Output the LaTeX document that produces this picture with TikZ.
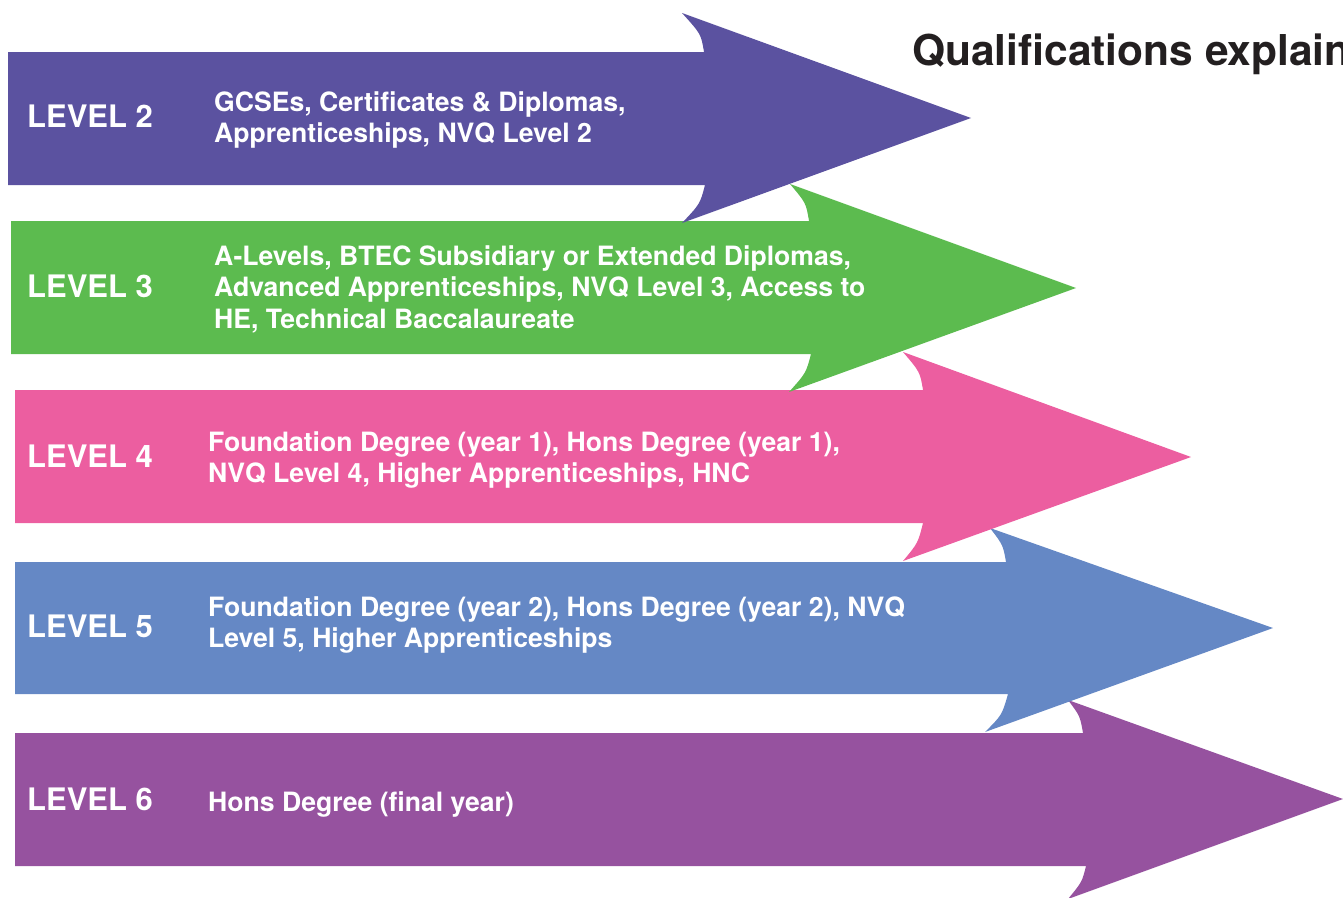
\documentclass[tikz,border=0pt]{standalone}
\usepackage{fontspec}
\setmainfont{TeX Gyre Heros}
\usepackage{tikz}
\usepackage{xcolor}
\definecolor{lvtwo}{HTML}{5B52A0}
\definecolor{lvthree}{HTML}{5CBB4F}
\definecolor{lvfour}{HTML}{EC5EA0}
\definecolor{lvfive}{HTML}{6588C5}
\definecolor{lvsix}{HTML}{96529F}
\definecolor{titlegrey}{HTML}{231F20}
\tikzset{
lvlarrow/.style={
 fill=#1,
 draw=none
 },
lvlname/.style={
 text=white,
 font=\bfseries\fontsize{31}{36}\selectfont,
 inner sep=0pt,
 anchor=base west
 },
lvltext/.style={
 text=white,
 font=\bfseries\fontsize{26.6}{31.5}\selectfont,
 align=left,
 inner sep=0pt,
 anchor=north west
 },
bigtitle/.style={
 text=titlegrey,
 font=\bfseries\fontsize{42.5}{50}\selectfont,
 inner sep=0pt,
 anchor=base west
 }
}
\begin{document}
\begin{tikzpicture}[x=1pt,y=-1pt]
\useasboundingbox (0,0) rectangle (1343,897);
% arrows, lowest first so that each one lies under the one above it
\fill[lvlarrow=lvsix] (15,733) -- (1083,733) .. controls (1080,716) .. (1068,700)
 -- (1343,799) -- (1068,899) .. controls (1082,882) .. (1086,866) -- (15,866) -- cycle;
\fill[lvlarrow=lvfive] (15,562) -- (1006,562) .. controls (1003,545) .. (990,528)
 -- (1273,628) -- (985,732) .. controls (1002,715) .. (1008,694) -- (15,694) -- cycle;
\fill[lvlarrow=lvfour] (15,390) -- (923,390) .. controls (920,372) .. (903,352)
 -- (1191,457) -- (903,561) .. controls (918,543) .. (923,523) -- (15,523) -- cycle;
\fill[lvlarrow=lvthree] (11,221) -- (809,221) .. controls (806,203) .. (790,184)
 -- (1076,288) -- (789,392) .. controls (806,373) .. (811,354) -- (11,354) -- cycle;
\fill[lvlarrow=lvtwo] (8,52) -- (704,52) .. controls (701,34) .. (682,13)
 -- (971,118) -- (682,223) .. controls (700,204) .. (705,185) -- (8,185) -- cycle;
% labels
\node[lvlname] (nametwo) at (27,127) {LEVEL 2};
\node[lvlname] (namethree) at (27,297) {LEVEL 3};
\node[lvlname] (namefour) at (27,467) {LEVEL 4};
\node[lvlname] (namefive) at (27,637) {LEVEL 5};
\node[lvlname] (namesix) at (27,810) {LEVEL 6};
\node[lvltext] (texttwo) at (214,91) {GCSEs, Certificates \& Diplomas,\\Apprenticeships, NVQ Level 2};
\node[lvltext] (textthree) at (214,245) {A-Levels, BTEC Subsidiary or Extended Diplomas,\\Advanced Apprenticeships, NVQ Level 3, Access to\\HE, Technical Baccalaureate};
\node[lvltext] (textfour) at (208,431) {Foundation Degree (year 1), Hons Degree (year 1),\\NVQ Level 4, Higher Apprenticeships, HNC};
\node[lvltext] (textfive) at (208,596) {Foundation Degree (year 2), Hons Degree (year 2), NVQ\\Level 5, Higher Apprenticeships};
\node[lvltext] (textsix) at (208,791) {Hons Degree (final year)};
\node[bigtitle] (title) at (912,65) {Qualifications explain};
\end{tikzpicture}
\end{document}
